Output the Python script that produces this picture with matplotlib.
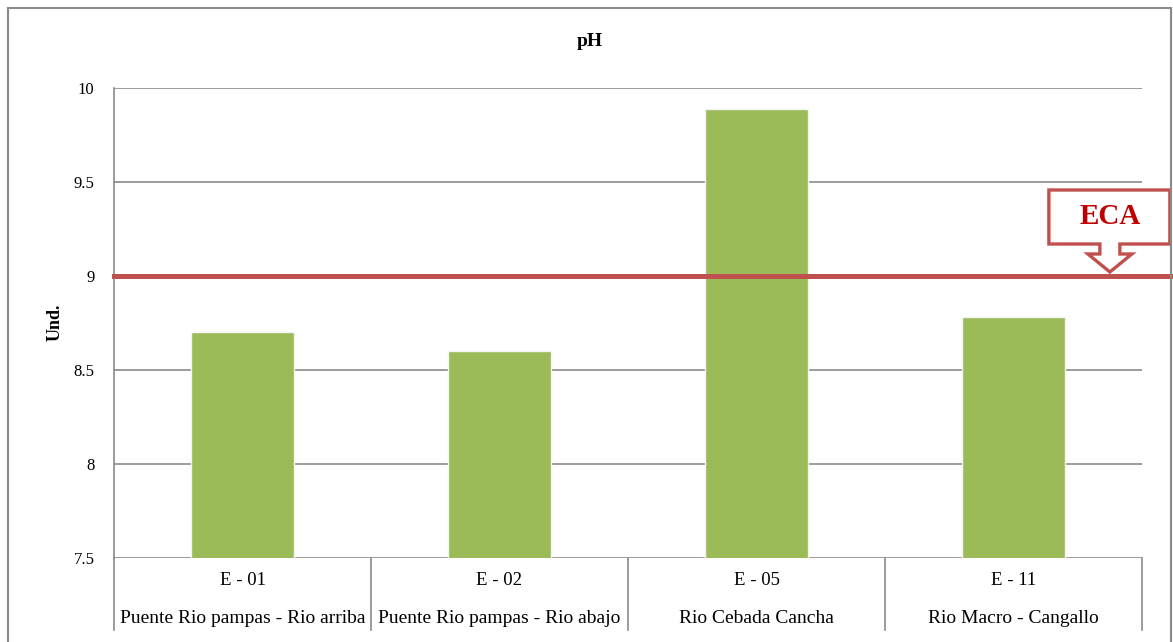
import matplotlib
matplotlib.use("Agg")
import matplotlib.pyplot as plt
import matplotlib.transforms as mtransforms
from matplotlib.patches import Polygon, Rectangle
from matplotlib import patheffects

# pH per monitoring station
stations = ["E - 01", "E - 02", "E - 05", "E - 11"]
places = ["Puente Rio pampas - Rio arriba", "Puente Rio pampas - Rio abajo",
          "Rio Cebada Cancha", "Rio Macro - Cangallo"]
ph_values = [8.70, 8.60, 9.89, 8.78]
eca_limit = 9.0
y_ticks = [7.5, 8, 8.5, 9, 9.5, 10]

plt.rcParams['font.family'] = ['Liberation Serif', 'DejaVu Serif']

fig = plt.figure(figsize=(11.73, 6.42), dpi=100)
ax = fig.add_axes([114 / 1173, 84 / 642, 1028 / 1173, 470 / 642])

x = list(range(len(stations)))
bars = ax.bar(x, ph_values, width=0.4, color="#9BBB59", edgecolor="#f4f4f4",
              linewidth=1.0, zorder=3)
for b in bars:
    b.set_path_effects([patheffects.SimplePatchShadow(offset=(1, -1), alpha=0.18),
                        patheffects.Normal()])

ax.set_xlim(-0.5, len(stations) - 0.5)
ax.set_ylim(7.5, 10)
ax.set_yticks(y_ticks)
ax.set_yticklabels([f"{v:g}" for v in y_ticks], fontsize=12)
ax.tick_params(axis="y", length=0, pad=14)
ax.set_xticks([])
ax.grid(axis="y", color="#8a8a8a", linewidth=1.2, zorder=0)
ax.set_axisbelow(True)
for side in ["top", "right", "bottom"]:
    ax.spines[side].set_visible(False)
ax.spines["left"].set_color("#8a8a8a")
ax.spines["left"].set_linewidth(1.2)

# category table under the axis
tb = mtransforms.blended_transform_factory(ax.transData, ax.transAxes)
for i in range(len(stations) + 1):
    ax.plot([i - 0.5, i - 0.5], [0, -0.153], transform=tb, color="#8a8a8a",
            linewidth=1.2, clip_on=False)
for i, (s, p) in enumerate(zip(stations, places)):
    ax.text(i, -0.047, s, transform=tb, ha="center", va="center", fontsize=13.5)
    ax.text(i, -0.128, p, transform=tb, ha="center", va="center", fontsize=14)

fig.text(590 / 1173, 1 - 42 / 642, "pH", ha="center", va="center",
         fontsize=14, fontweight="bold")
fig.text(55 / 1173, 1 - 322 / 642, "Und.", rotation=90, ha="center", va="center",
         fontsize=13, fontweight="bold")

# ECA limit line and callout
ax.axhline(eca_limit, 0, 1.028, color="#C0504D", linewidth=3.6, clip_on=False, zorder=4)
anchor = fig.dpi_scale_trans + mtransforms.ScaledTranslation(3.375, eca_limit, ax.transData)
shape = [(0, 4), (22, 22), (10, 22), (10, 32), (60, 32), (60, 86), (-61, 86),
         (-61, 32), (-10, 32), (-10, 22), (-22, 22)]
callout = Polygon([(px / 100, py / 100) for px, py in shape], closed=True,
                  facecolor="white", edgecolor="#C0504D", linewidth=2.4,
                  transform=anchor, clip_on=False, zorder=5)
ax.add_patch(callout)
ax.text(0, 0.59, "ECA", transform=anchor, ha="center", va="center",
        fontsize=21, fontweight="bold", color="#C00000", zorder=6)

# outer chart frame
fig.add_artist(Rectangle((7.5 / 1173, -0.05), (1171 - 7.5) / 1173, 1.05 - 7.5 / 642,
                         transform=fig.transFigure, fill=False,
                         edgecolor="#8a8a8a", linewidth=1.5))

fig.savefig("out.png", dpi=100)
